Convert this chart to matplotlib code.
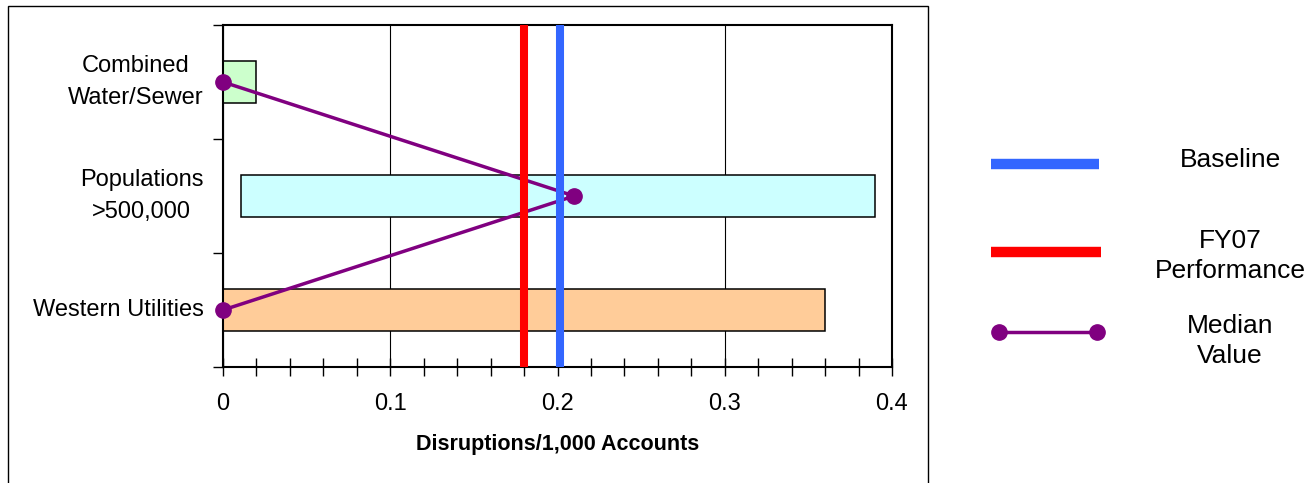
import matplotlib
matplotlib.use("Agg")
import matplotlib.pyplot as plt
from matplotlib.lines import Line2D
from matplotlib.patches import Rectangle
from matplotlib.ticker import MultipleLocator, FixedLocator, NullFormatter

plt.rcParams['font.family'] = ['Liberation Sans', 'DejaVu Sans']

# Data (disruptions per 1,000 accounts)
categories = ["Western Utilities", "Populations\n>500,000", "Combined\nWater/Sewer"]
range_low = [0.0, 0.011, 0.0]
range_high = [0.36, 0.39, 0.02]
medians = [0.0, 0.21, 0.0]
bar_colors = ["#FFCC99", "#CCFFFF", "#CCFFCC"]
baseline = 0.2016
fy07 = 0.18
x_ticks = [0, 0.1, 0.2, 0.3, 0.4]
x_tick_labels = ["0", "0.1", "0.2", "0.3", "0.4"]

W, H = 1310, 483
fig = plt.figure(figsize=(W / 100, H / 100), dpi=100)
fig.patch.set_facecolor("white")

def fx(px):
    return px / W

def fy(py):
    return 1 - py / H

# outer frame around the chart area
fig.add_artist(Rectangle((fx(8), fy(490)), fx(928) - fx(8), fy(6) - fy(490),
                         transform=fig.transFigure, fill=False,
                         edgecolor="black", linewidth=1.0, clip_on=False))

ax = fig.add_axes([fx(223), fy(367), fx(892) - fx(223), fy(25) - fy(367)])

centers = [i + 0.5 for i in range(len(categories))]
widths = [h - l for l, h in zip(range_low, range_high)]
ax.barh(centers, widths, left=range_low, height=0.36, color=bar_colors,
        edgecolor="black", linewidth=1.1, zorder=2)

ax.plot(medians, centers, color="#800080", linewidth=2.5, marker="o",
        markersize=11, zorder=3, clip_on=False)

ax.axvline(fy07, color="#FF0000", linewidth=5.8, zorder=4, ymin=0.006, ymax=0.994)
ax.axvline(baseline, color="#3366FF", linewidth=5.8, zorder=4, ymin=0.006, ymax=0.994)

ax.set_xlim(0, 0.4)
ax.set_ylim(0, len(categories))

ax.set_xticks(x_ticks)
ax.set_xticklabels(x_tick_labels, fontsize=17)
ax.xaxis.set_minor_locator(MultipleLocator(0.02))
ax.xaxis.set_minor_formatter(NullFormatter())
ax.tick_params(axis="x", which="both", direction="inout", length=13, width=1.0,
               pad=12)
ax.grid(axis="x", which="major", color="black", linewidth=0.8, zorder=1)
ax.set_axisbelow(True)

ax.yaxis.set_major_locator(FixedLocator([0, 1, 2, 3]))
ax.yaxis.set_major_formatter(NullFormatter())
ax.yaxis.set_minor_locator(FixedLocator(centers))
ax.set_yticklabels(categories, minor=True)
ax.tick_params(axis="y", which="major", direction="out", length=7, width=1.0)
ax.tick_params(axis="y", which="minor", length=0, pad=14, labelsize=17)
for lbl in ax.get_yticklabels(minor=True):
    lbl.set_multialignment("center")
    lbl.set_linespacing(1.55)
    lbl.set_verticalalignment("center")

for s in ax.spines.values():
    s.set_linewidth(1.5)
    s.set_color("black")

ax.set_xlabel("Disruptions/1,000 Accounts", fontsize=15.5, fontweight="bold",
              labelpad=14)

# legend drawn at the right of the frame
leg_text_x = fx(1230)
fig.add_artist(Line2D([fx(991), fx(1099)], [fy(164), fy(164)], color="#3366FF",
                      linewidth=7.5, solid_capstyle="butt", transform=fig.transFigure))
fig.text(leg_text_x, fy(160), "Baseline", ha="center", va="center", fontsize=19)

fig.add_artist(Line2D([fx(991), fx(1101)], [fy(252), fy(252)], color="#FF0000",
                      linewidth=7.5, solid_capstyle="butt", transform=fig.transFigure))
fig.text(leg_text_x, fy(256), "FY07\nPerformance", ha="center", va="center",
         fontsize=19, multialignment="center", linespacing=1.3)

fig.add_artist(Line2D([fx(999), fx(1097)], [fy(332), fy(332)], color="#800080",
                      linewidth=2.5, marker="o", markersize=11,
                      transform=fig.transFigure))
fig.text(leg_text_x, fy(341), "Median\nValue", ha="center", va="center",
         fontsize=19, multialignment="center", linespacing=1.3)

fig.savefig("out.png", dpi=100)
